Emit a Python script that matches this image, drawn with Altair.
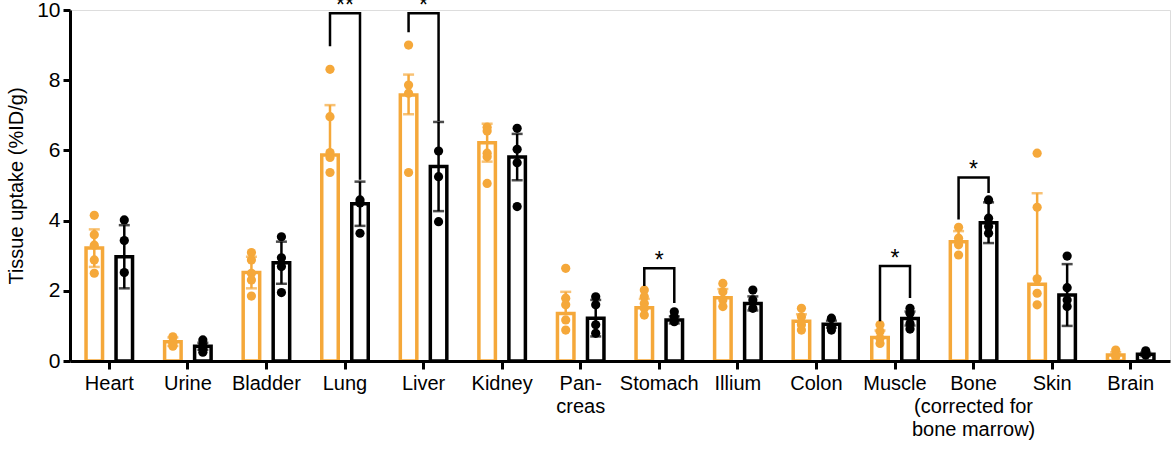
import altair as alt
import pandas as pd

organs = ["Heart", "Urine", "Bladder", "Lung", "Liver", "Kidney", "Pan-|creas",
          "Stomach", "Illium", "Colon", "Muscle", "Bone|(corrected for|bone marrow)",
          "Skin", "Brain"]
groups = ["A", "B"]

orange_mean = [3.22, 0.55, 2.52, 5.87, 7.58, 6.22, 1.35, 1.52, 1.80, 1.13, 0.67, 3.40, 2.19, 0.17]
black_mean = [2.97, 0.42, 2.80, 4.48, 5.54, 5.81, 1.22, 1.17, 1.64, 1.05, 1.21, 3.94, 1.88, 0.19]
# error bar ends as drawn (lower end equal to the mean where no lower bar is visible)
orange_lo = [2.68, 0.43, 2.07, 5.87, 7.03, 5.68, 1.35, 1.52, 1.80, 1.13, 0.67, 3.40, 2.19, 0.17]
orange_hi = [3.75, 0.67, 2.97, 7.29, 8.16, 6.76, 1.97, 1.77, 2.05, 1.33, 0.87, 3.70, 4.78, 0.25]
black_lo = [2.07, 0.32, 2.20, 3.85, 4.27, 5.15, 0.70, 1.07, 1.44, 0.95, 1.01, 3.36, 1.00, 0.14]
black_hi = [3.87, 0.52, 3.40, 5.11, 6.81, 6.47, 1.74, 1.27, 1.84, 1.15, 1.41, 4.52, 2.76, 0.24]

orange_pts = [
    [4.15, 3.60, 3.30, 2.88, 2.50],
    [0.69, 0.55, 0.50, 0.42],
    [3.09, 2.88, 2.50, 2.31, 1.85],
    [8.31, 6.96, 5.94, 5.80, 5.37],
    [9.00, 7.86, 7.63, 5.37],
    [6.66, 6.55, 5.92, 5.82, 5.06],
    [2.64, 1.79, 1.60, 1.17, 0.88],
    [2.02, 1.83, 1.64, 1.50, 1.31],
    [2.21, 1.97, 1.74, 1.55],
    [1.50, 1.26, 1.03, 0.88],
    [1.03, 0.84, 0.65, 0.50],
    [3.81, 3.50, 3.31, 3.02],
    [5.92, 4.38, 2.34, 1.93, 1.60],
    [0.31, 0.17, 0.12],
]
black_pts = [
    [4.02, 3.43, 2.52],
    [0.60, 0.45, 0.35, 0.25],
    [3.54, 2.94, 2.69, 1.95],
    [4.59, 4.50, 3.64],
    [5.98, 5.25, 3.97],
    [6.63, 6.03, 5.65, 4.40],
    [1.83, 1.60, 1.03, 0.79],
    [1.40, 1.26, 1.12],
    [2.02, 1.74, 1.50],
    [1.22, 0.98, 0.88],
    [1.50, 1.36, 1.07, 0.91],
    [4.59, 4.07, 3.83, 3.64],
    [2.99, 2.09, 1.74, 1.55],
    [0.29, 0.17],
]

sig_organs = ["Lung", "Liver", "Stomach", "Muscle", "Bone|(corrected for|bone marrow)"]
sig_left = [9.00, 9.40, 2.17, 1.17, 4.07]
sig_top = [9.91, 9.91, 2.64, 2.71, 5.23]
sig_right = [5.20, 6.87, 1.69, 1.83, 4.82]
sig_text = ["**", "*", "*", "*", "*"]

y_ticks = [0, 2, 4, 6, 8, 10]

ORANGE = "#F5A83A"
BLACK = "#000000"
FONT = "Arial, Liberation Sans, Helvetica, sans-serif"
YTITLE = "Tissue uptake (%ID/g)"

# ---- tables ----
bar_rows = []
for i, o in enumerate(organs):
    bar_rows.append({"organ": o, "group": "A", "mean": orange_mean[i],
                     "lo": orange_lo[i], "hi": orange_hi[i]})
    bar_rows.append({"organ": o, "group": "B", "mean": black_mean[i],
                     "lo": black_lo[i], "hi": black_hi[i]})
bars_df = pd.DataFrame(bar_rows)

pt_rows = []
for i, o in enumerate(organs):
    for v in orange_pts[i]:
        pt_rows.append({"organ": o, "group": "A", "v": v})
    for v in black_pts[i]:
        pt_rows.append({"organ": o, "group": "B", "v": v})
pts_df = pd.DataFrame(pt_rows)

br_rows = []
for j, o in enumerate(sig_organs):
    br_rows += [
        {"organ": o, "group": "A", "y": sig_left[j], "k": 0, "id": j},
        {"organ": o, "group": "A", "y": sig_top[j], "k": 1, "id": j},
        {"organ": o, "group": "B", "y": sig_top[j], "k": 2, "id": j},
        {"organ": o, "group": "B", "y": sig_right[j], "k": 3, "id": j},
    ]
br_df = pd.DataFrame(br_rows)
txt_df = pd.DataFrame({"organ": sig_organs, "y": sig_top, "t": sig_text})

# ---- encodings ----
x_enc = alt.X("organ:N", sort=organs,
              scale=alt.Scale(paddingInner=0, paddingOuter=0),
              axis=alt.Axis(title=None, labelAngle=0, labelExpr="split(datum.label, '|')",
                            labelFontSize=20, labelColor=BLACK, labelFont=FONT,
                            labelLineHeight=23, labelPadding=4, labelBaseline="top",
                            domainColor=BLACK, domainWidth=3, tickColor=BLACK,
                            tickWidth=3, tickSize=8, zindex=1))
xo_enc = alt.XOffset("group:N", sort=groups,
                     scale=alt.Scale(paddingInner=0.45, paddingOuter=0.5345))
col_enc = alt.Color("group:N", scale=alt.Scale(domain=groups, range=[ORANGE, BLACK]), legend=None)
y_scale = alt.Scale(domain=[0, 10], nice=False, zero=True)
y_axis = alt.Axis(values=y_ticks, grid=False, labelFontSize=21, labelColor=BLACK,
                  labelFont=FONT, titleFont=FONT, titleFontSize=20, titleFontWeight="normal",
                  titleColor=BLACK, titlePadding=10, domainColor=BLACK, domainWidth=3,
                  tickColor=BLACK, tickWidth=3, tickSize=7, labelPadding=3, zindex=1)

bars = alt.Chart(bars_df).mark_bar(fill="white", strokeWidth=3.5, strokeJoin="miter").encode(
    x=x_enc, xOffset=xo_enc,
    y=alt.Y("mean:Q", scale=y_scale, axis=y_axis, title=YTITLE),
    stroke=alt.Stroke("group:N", scale=alt.Scale(domain=groups, range=[ORANGE, BLACK]), legend=None),
)

err = alt.Chart(bars_df).mark_rule(strokeWidth=2.5).encode(
    x=x_enc, xOffset=xo_enc,
    y=alt.Y("lo:Q", scale=y_scale, title=YTITLE), y2="hi:Q",
    color=col_enc,
)
cap_lo = alt.Chart(bars_df).transform_filter("datum.lo < datum.mean").mark_tick(
    size=11, thickness=2.5, orient="horizontal").encode(
    x=x_enc, xOffset=xo_enc, y=alt.Y("lo:Q", scale=y_scale, title=YTITLE), color=col_enc,
)
cap_hi = alt.Chart(bars_df).mark_tick(size=11, thickness=2.5, orient="horizontal").encode(
    x=x_enc, xOffset=xo_enc, y=alt.Y("hi:Q", scale=y_scale, title=YTITLE), color=col_enc,
)

dots = alt.Chart(pts_df).mark_circle(size=85, opacity=1).encode(
    x=x_enc, xOffset=xo_enc, y=alt.Y("v:Q", scale=y_scale, title=YTITLE), color=col_enc,
)

brackets = alt.Chart(br_df).mark_line(color=BLACK, strokeWidth=2.5, strokeJoin="miter",
                                      strokeCap="square").encode(
    x=x_enc, xOffset=xo_enc, y=alt.Y("y:Q", scale=y_scale, title=YTITLE),
    order="k:Q", detail="id:N",
)

stars = alt.Chart(txt_df).mark_text(fontSize=23, font=FONT, color=BLACK,
                                    baseline="alphabetic", dy=0).encode(
    x=x_enc, y=alt.Y("y:Q", scale=y_scale, title=YTITLE), text="t:N",
)

chart = alt.layer(bars, err, cap_lo, cap_hi, dots, brackets, stars).properties(
    width=1100, height=351,
    autosize=alt.AutoSizeParams(type="none"),
    padding={"left": 70, "top": 10, "right": 5, "bottom": 90},
).configure_view(stroke=None).configure(font=FONT)

chart.save("out.html", embed_options={"renderer": "svg", "actions": False})
